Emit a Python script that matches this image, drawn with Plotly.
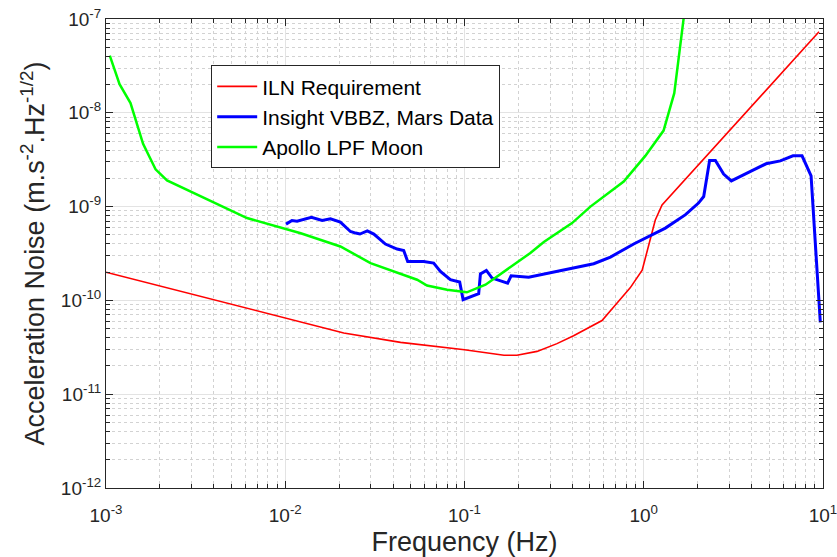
import plotly.graph_objects as go

# ILN Requirement
iln_f = [0.001, 0.01, 0.0212, 0.044, 0.1, 0.166, 0.196, 0.254, 0.328, 0.406, 0.504, 0.585,
         0.71, 0.84, 0.98, 1.09, 1.16, 1.265, 9.5]
iln_a = [2.0e-10, 6.5e-11, 4.5e-11, 3.57e-11, 2.98e-11, 2.6e-11, 2.6e-11, 2.86e-11, 3.46e-11,
         4.2e-11, 5.3e-11, 6.1e-11, 9.4e-11, 1.36e-10, 2.1e-10, 4.4e-10, 7.2e-10, 1.04e-9, 7.3e-8]

# Insight VBBZ, Mars Data
vbb_f = [0.0101, 0.0109, 0.01164, 0.0140, 0.01606, 0.01787, 0.0203, 0.0231, 0.0247, 0.0261,
         0.0287, 0.0312, 0.0362, 0.0421, 0.0458, 0.0482, 0.0592, 0.0673, 0.0734, 0.0834,
         0.094, 0.0982, 0.120, 0.1227, 0.1324, 0.1425, 0.174, 0.182, 0.228, 0.328, 0.526,
         0.652, 0.879, 1.32, 1.71, 2.02, 2.16, 2.33, 2.51, 2.79, 3.08, 4.02, 4.81, 5.78,
         6.8, 7.64, 8.58, 9.66]
vbb_a = [6.5e-10, 7.1e-10, 7.0e-10, 7.7e-10, 7.1e-10, 7.4e-10, 6.84e-10, 5.43e-10, 5.22e-10,
         5.1e-10, 5.5e-10, 5.1e-10, 3.99e-10, 3.53e-10, 3.4e-10, 2.6e-10, 2.6e-10, 2.5e-10,
         2.04e-10, 1.66e-10, 1.57e-10, 1.02e-10, 1.18e-10, 1.92e-10, 2.09e-10, 1.73e-10,
         1.53e-10, 1.83e-10, 1.77e-10, 2.04e-10, 2.46e-10, 2.9e-10, 3.99e-10, 5.9e-10,
         8.2e-10, 1.09e-9, 1.28e-9, 3.1e-9, 3.1e-9, 2.22e-9, 1.88e-9, 2.42e-9, 2.86e-9,
         3.07e-9, 3.48e-9, 3.48e-9, 2.13e-9, 5.83e-11]

# Apollo LPF Moon
apo_f = [0.00105, 0.00119, 0.00137, 0.00161, 0.00189, 0.00219, 0.00612, 0.0122, 0.0203,
         0.0299, 0.0544, 0.0618, 0.080, 0.103, 0.131, 0.180, 0.233, 0.277, 0.398, 0.504,
         0.773, 1.02, 1.29, 1.48, 1.62, 1.72]
apo_a = [4.07e-8, 2.02e-8, 1.27e-8, 4.67e-9, 2.5e-9, 1.9e-9, 7.55e-10, 5.2e-10, 3.76e-10,
         2.5e-10, 1.66e-10, 1.44e-10, 1.3e-10, 1.22e-10, 1.47e-10, 2.25e-10, 3.2e-10,
         4.2e-10, 6.67e-10, 1.0e-9, 1.85e-9, 3.47e-9, 6.46e-9, 1.62e-8, 7.3e-8, 1.6e-7]

x_ticks = [1e-3, 1e-2, 1e-1, 1e0, 1e1]
x_labels = ["10<sup>-3</sup>", "10<sup>-2</sup>", "10<sup>-1</sup>", "10<sup>0</sup>", "10<sup>1</sup>"]
y_ticks = [1e-12, 1e-11, 1e-10, 1e-9, 1e-8, 1e-7]
y_labels = ["10<sup>-12</sup>", "10<sup>-11</sup>", "10<sup>-10</sup>", "10<sup>-9</sup>",
            "10<sup>-8</sup>", "10<sup>-7</sup>"]

fig = go.Figure()
fig.add_trace(go.Scatter(x=iln_f, y=iln_a, mode="lines", name="ILN Requirement",
                         line=dict(color="#ff0000", width=1.6)))
fig.add_trace(go.Scatter(x=vbb_f, y=vbb_a, mode="lines", name="Insight VBBZ, Mars Data",
                         line=dict(color="#0000ff", width=3)))
fig.add_trace(go.Scatter(x=apo_f, y=apo_a, mode="lines", name="Apollo LPF Moon",
                         line=dict(color="#00ff00", width=2.5)))

axis_common = dict(
    type="log", automargin=False, ticklabeloverflow="allow",
    showline=True, linecolor="#262626", linewidth=1, mirror="allticks",
    ticks="inside", ticklen=7, tickcolor="#262626",
    showgrid=True, gridcolor="#e3e3e3", gridwidth=1,
    zeroline=False,
    tickfont=dict(family="Liberation Sans, Arial", size=19, color="#262626"),
    minor=dict(dtick="D1", ticks="inside", ticklen=4, tickcolor="#262626",
               showgrid=True, gridcolor="#d2d2d2", griddash="dot", gridwidth=1),
)

fig.update_layout(
    width=837, height=557,
    margin=dict(l=105.5, r=14.3, t=19, b=68.7),
    paper_bgcolor="white", plot_bgcolor="white",
    font=dict(family="Liberation Sans, Arial", color="#262626"),
    xaxis=dict(axis_common, range=[-3, 1], tickvals=x_ticks, ticktext=x_labels,
               ticklabelstandoff=10,
               title=dict(text="Frequency (Hz)", font=dict(size=27, color="#262626"), standoff=8)),
    yaxis=dict(axis_common, range=[-12, -7], tickvals=y_ticks, ticktext=y_labels,
               title=dict(text="Acceleration Noise (m.s<sup>-2</sup>.Hz<sup>-1/2</sup>)",
                          font=dict(size=27, color="#262626"), standoff=8)),
    legend=dict(x=0.1467, y=0.9015, xanchor="left", yanchor="top",
                bgcolor="white", bordercolor="#262626", borderwidth=1,
                font=dict(family="Liberation Sans, Arial", size=21, color="black"),
                tracegroupgap=0, itemwidth=40),
    showlegend=True,
)

fig.write_html("out.html")
